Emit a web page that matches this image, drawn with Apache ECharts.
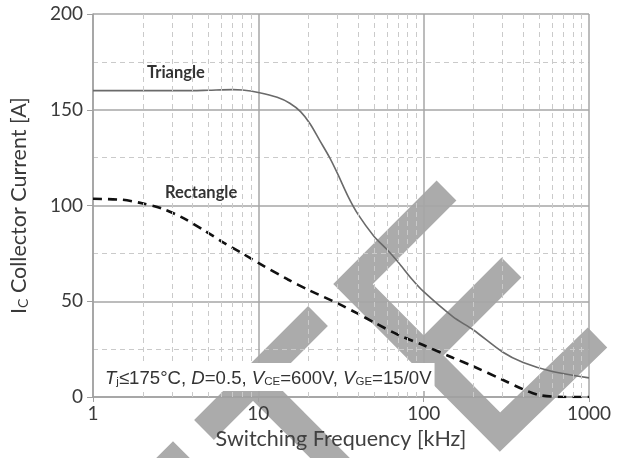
<!DOCTYPE html>
<html><head><meta charset="utf-8">
<script src="https://cdn.jsdelivr.net/npm/echarts@6/dist/echarts.min.js"></script>
<style>html,body{margin:0;padding:0;background:#fff}#c{width:621px;height:458px}</style>
</head><body><div id="c"></div>
<script>
// Data
var triFreq = [1, 1.5, 2, 3, 4, 5, 7, 8, 10, 13, 15.5, 18, 20.5, 23.5, 27, 30, 35, 40, 50, 60, 70, 85, 100, 150, 200, 300, 400, 600, 1000];
var triCurr = [160, 160, 160, 160, 160, 160.2, 160.5, 160.3, 159, 156.5, 153.4, 149, 142.8, 134, 125, 117, 104.5, 95.5, 84, 77, 70.5, 61.5, 55, 42, 35, 23.5, 18, 13.3, 10];
var rectFreq = [1, 1.5, 1.9, 2.6, 3.5, 4.7, 6.2, 8, 10, 15, 20, 30, 40, 50, 70, 100, 150, 200, 300, 400, 500, 700, 1000];
var rectCurr = [103.5, 103, 101.5, 98.5, 93.5, 87, 80.5, 75, 70, 61.5, 56, 49, 43.5, 39, 32.5, 27, 20.5, 16, 9, 4, 1, 0, 0];
var minorX = [2, 3, 4, 5, 6, 7, 8, 9, 20, 30, 40, 50, 60, 70, 80, 90, 200, 300, 400, 500, 600, 700, 800, 900];
var xTicks = [1, 10, 100, 1000];
var yTicks = [0, 50, 100, 150, 200];

function pairs(xs, ys) { return xs.map(function (x, i) { return [x, ys[i]]; }); }

var chart = echarts.init(document.getElementById('c'));
var wm = '#ababab';
chart.setOption({
  animation: false,
  grid: { left: 88, right: 32, top: 14, bottom: 61 },
  xAxis: {
    type: 'log', logBase: 10, min: xTicks[0], max: xTicks[xTicks.length - 1],
    name: 'Switching Frequency [kHz]', nameLocation: 'middle', nameGap: 30,
    nameTextStyle: { fontFamily: 'Lato', fontSize: 21.5, color: '#404040' },
    axisLine: { show: true, lineStyle: { color: '#a0a0a0', width: 1.5 } },
    axisTick: { show: true, length: 5, lineStyle: { color: '#a0a0a0' } },
    axisLabel: { fontFamily: 'Lato', fontSize: 19, color: '#3a3a3a', margin: 7,
      formatter: function (v) { return String(Math.round(v)); } },
    splitLine: { show: true, lineStyle: { color: '#a6a6a6', width: 1.5 } }
  },
  yAxis: {
    type: 'value', min: yTicks[0], max: yTicks[yTicks.length - 1], interval: 50,
    name: '{a|I}{b|C}{a| Collector Current [A]}', nameLocation: 'middle', nameGap: 63,
    nameTextStyle: {
      rich: {
        a: { fontFamily: 'Lato', fontSize: 21.5, color: '#3a3a3a', verticalAlign: 'bottom', lineHeight: 26 },
        b: { fontFamily: 'Lato', fontSize: 14, color: '#3a3a3a', verticalAlign: 'bottom', lineHeight: 19 }
      }
    },
    axisLine: { show: true, lineStyle: { color: '#a0a0a0', width: 1.5 } },
    axisTick: { show: true, length: 6, lineStyle: { color: '#a0a0a0' } },
    axisLabel: { fontFamily: 'Lato', fontSize: 19, color: '#3a3a3a', margin: 10 },
    splitLine: { show: true, lineStyle: { color: '#a6a6a6', width: 1.5 } },
    minorTick: { show: false, splitNumber: 2 },
    minorSplitLine: { show: true, lineStyle: { color: '#cacaca', width: 1, type: [5, 4] } }
  },
  series: [
    {
      type: 'line', data: [], silent: true, z: 1,
      markLine: {
        silent: true, symbol: ['none', 'none'], label: { show: false },
        lineStyle: { color: '#cacaca', width: 1, type: [5, 4] },
        data: minorX.map(function (v) { return { xAxis: v }; })
      }
    },
    {
      name: 'Triangle', type: 'line', data: pairs(triFreq, triCurr), smooth: 0.3,
      showSymbol: false, z: 3,
      lineStyle: { color: '#6a6a6a', width: 1.6 }
    },
    {
      name: 'Rectangle', type: 'line', data: pairs(rectFreq, rectCurr), smooth: 0.3,
      showSymbol: false, z: 3,
      lineStyle: { color: '#111', width: 2.6, type: [9, 6] }
    }
  ],
  graphic: [
    { type: 'polyline', z: -1, silent: true, shape: { points: [[446.5, 190.5], [353, 284], [500, 432], [597.5, 337.5]] },
      style: { stroke: wm, lineWidth: 28, fill: null, lineJoin: 'miter', lineCap: 'butt' } },
    { type: 'polyline', z: -1, silent: true, shape: { points: [[511.5, 267.5], [430, 349]] },
      style: { stroke: wm, lineWidth: 28, fill: null, lineCap: 'butt' } },
    { type: 'polyline', z: -1, silent: true, shape: { points: [[318, 316], [204, 430]] },
      style: { stroke: wm, lineWidth: 28, fill: null, lineCap: 'butt' } },
    { type: 'polyline', z: -1, silent: true, shape: { points: [[250, 378], [345, 473]] },
      style: { stroke: wm, lineWidth: 28, fill: null, lineCap: 'butt' } },
    { type: 'polyline', z: -1, silent: true, shape: { points: [[140, 494], [173, 461], [206, 494]] },
      style: { stroke: wm, lineWidth: 28, fill: null, lineJoin: 'miter', lineCap: 'butt' } },
    { type: 'text', z: 10, x: 147, y: 73,
      style: { text: 'Triangle', font: 'bold 16.5px Lato', fill: '#333', verticalAlign: 'middle' } },
    { type: 'text', z: 10, x: 165, y: 193,
      style: { text: 'Rectangle', font: 'bold 16.5px Lato', fill: '#333', verticalAlign: 'middle' } },
    { type: 'text', z: 10, x: 102, y: 377,
      style: {
        text: '{i|T}{s|j}{n|≤175°C, }{i|D}{n|=0.5, }{i|V}{s|CE}{n|=600V, }{i|V}{s|GE}{n|=15/0V}',
        verticalAlign: 'middle', backgroundColor: '#fff', padding: [3, 3, 3, 3],
        rich: {
          i: { fontFamily: 'Liberation Sans', fontStyle: 'italic', fontSize: 18.6, fill: '#333', verticalAlign: 'bottom', lineHeight: 22 },
          n: { fontFamily: 'Liberation Sans', fontSize: 18.6, fill: '#333', verticalAlign: 'bottom', lineHeight: 22 },
          s: { fontFamily: 'Liberation Sans', fontSize: 11.5, fill: '#333', verticalAlign: 'bottom', lineHeight: 16 }
        }
      } }
  ]
});
</script></body></html>
